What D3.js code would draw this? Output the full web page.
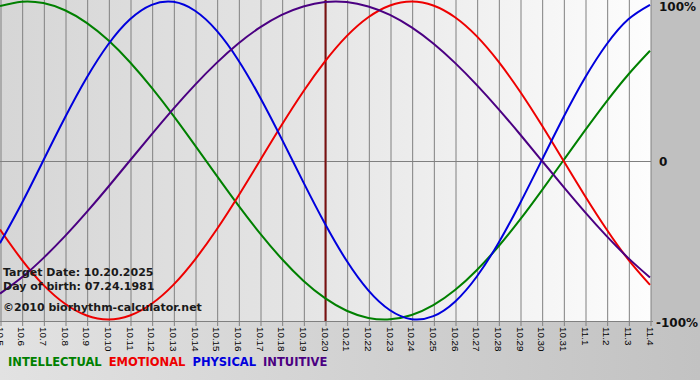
<!DOCTYPE html>
<html><head><meta charset="utf-8">
<script src="https://cdn.jsdelivr.net/npm/d3@7"></script>
<style>html,body{margin:0;padding:0;background:#fff}svg{display:block}</style>
</head><body>
<script>
// ---- data ----
const dates = ["10.5","10.6","10.7","10.8","10.9","10.10","10.11","10.12","10.13","10.14","10.15","10.16","10.17","10.18","10.19","10.20","10.21","10.22","10.23","10.24","10.25","10.26","10.27","10.28","10.29","10.30","10.31","11.1","11.2","11.3","11.4"];
const intellectual = [0.972,0.999,0.990,0.945,0.866,0.756,0.618,0.458,0.282,0.095,-0.095,-0.282,-0.458,-0.618,-0.756,-0.866,-0.945,-0.990,-0.999,-0.972,-0.910,-0.815,-0.690,-0.541,-0.372,-0.189,0,0.189,0.372,0.541,0.690];
const emotional = [-0.434,-0.623,-0.782,-0.901,-0.975,-1,-0.975,-0.901,-0.782,-0.623,-0.434,-0.223,0,0.223,0.434,0.623,0.782,0.901,0.975,1,0.975,0.901,0.782,0.623,0.434,0.223,0,-0.223,-0.434,-0.623,-0.782];
const physical = [-0.520,-0.270,0,0.270,0.520,0.731,0.888,0.979,0.998,0.942,0.817,0.631,0.398,0.136,-0.136,-0.398,-0.631,-0.817,-0.942,-0.998,-0.979,-0.888,-0.731,-0.520,-0.270,0,0.270,0.520,0.731,0.888,0.979];
const intuitive = [-0.837,-0.736,-0.614,-0.476,-0.325,-0.165,0,0.165,0.325,0.476,0.614,0.736,0.837,0.916,0.969,0.997,0.997,0.969,0.916,0.837,0.736,0.614,0.476,0.325,0.165,0,-0.165,-0.325,-0.476,-0.614,-0.736];
const seriesNames = ["INTELLECTUAL","EMOTIONAL","PHYSICAL","INTUITIVE"];
const seriesColors = ["#008000","#ee0000","#0000dd","#4b0082"];
const targetDate = "10.20";
const yTicks = [1,0,-1];
const yTickLabels = ["100%","0","-100%"];
const infoLines = ["Target Date: 10.20.2025","Day of birth: 07.24.1981","©2010 biorhythm-calculator.net"];

const W = 700, H = 380;
const plotL = 0, plotR = 651, plotT = 0, plotB = 321;

const svg = d3.select("body").append("svg").attr("width", W).attr("height", H);
const defs = svg.append("defs");
const g1 = defs.append("linearGradient").attr("id","plotbg").attr("x1","0").attr("x2","1").attr("y1","0").attr("y2","0");
g1.append("stop").attr("offset","0").attr("stop-color","#d6d6d6");
g1.append("stop").attr("offset","0.45").attr("stop-color","#e4e4e4");
g1.append("stop").attr("offset","1").attr("stop-color","#fdfdfd");
const g2 = defs.append("linearGradient").attr("id","botbg").attr("x1","0").attr("x2","1").attr("y1","0").attr("y2","0");
g2.append("stop").attr("offset","0").attr("stop-color","#e2e2e2");
g2.append("stop").attr("offset","1").attr("stop-color","#c2c2c2");

svg.append("rect").attr("width", W).attr("height", H).attr("fill","url(#botbg)");
svg.append("rect").attr("x", plotR).attr("y", 0).attr("width", W - plotR).attr("height", plotB).attr("fill","#c0c0c0");
svg.append("rect").attr("x", plotL).attr("y", plotT).attr("width", plotR - plotL).attr("height", plotB - plotT).attr("fill","url(#plotbg)");

const x = d3.scalePoint().domain(dates).range([0, 650]);
const y = d3.scaleLinear().domain([-1, 1]).range([319.5, 1.5]);

// vertical grid + ticks
const xAxis = d3.axisBottom(x).tickSize(plotB + 5).tickFormat("");
const gx = svg.append("g").call(xAxis);
gx.select(".domain").remove();
gx.selectAll(".tick line").attr("stroke","#808080").attr("stroke-width",1)
  .attr("transform", "translate(0.5,0)");

// tick labels rotated
svg.append("g").selectAll("text").data(dates).join("text")
  .attr("transform", d => `translate(${x(d)},327) rotate(90)`)
  .attr("dy","0.35em")
  .attr("font-family","'Liberation Sans', Arial, sans-serif")
  .attr("font-size","9.8px")
  .attr("fill","#000")
  .text(d => d);

// horizontal lines: zero and axis
svg.append("line").attr("x1",0).attr("x2",plotR).attr("y1",Math.round(y(0))+0.5).attr("y2",Math.round(y(0))+0.5).attr("stroke","#808080");
svg.append("line").attr("x1",0).attr("x2",plotR+2).attr("y1",plotB+0.5).attr("y2",plotB+0.5).attr("stroke","#808080");

// target line
svg.append("line").attr("x1",x(targetDate)+0.5).attr("x2",x(targetDate)+0.5).attr("y1",0).attr("y2",plotB)
  .attr("stroke","#7a1010").attr("stroke-width",2);

// curves
const allSeries = [intellectual, emotional, physical, intuitive];
allSeries.forEach((s, i) => {
  svg.append("path").datum(s)
    .attr("d", d3.line().x((d,j)=>x(dates[j])).y(d=>y(d)).curve(d3.curveNatural))
    .attr("fill","none").attr("stroke", seriesColors[i]).attr("stroke-width",2);
});

// info text
infoLines.forEach((t,i) => {
  svg.append("text").attr("x",3).attr("y",[276,290,311][i])
    .attr("font-family","'DejaVu Sans', Verdana, sans-serif").attr("font-weight","bold").attr("font-size","11px")
    .attr("fill","#1a1a1a").text(t);
});

// right labels
const labelY = [7, 162, 323];
yTicks.forEach((v,i) => {
  svg.append("text").attr("x", i===2 ? 656 : 659).attr("y", labelY[i]).attr("dy","0.35em")
    .attr("font-family","'DejaVu Sans', Verdana, sans-serif").attr("font-weight","bold").attr("font-size","12px")
    .attr("fill","#111").text(yTickLabels[i]);
});

// legend
let lx = 8;
seriesNames.forEach((n,i) => {
  const t = svg.append("text").attr("x",lx).attr("y",366)
    .attr("font-family","'DejaVu Sans', Verdana, sans-serif").attr("font-weight","bold").attr("font-size","11.5px")
    .attr("fill", seriesColors[i]).text(n);
  lx += t.node().getComputedTextLength() + 7;
});
</script>
</body></html>
